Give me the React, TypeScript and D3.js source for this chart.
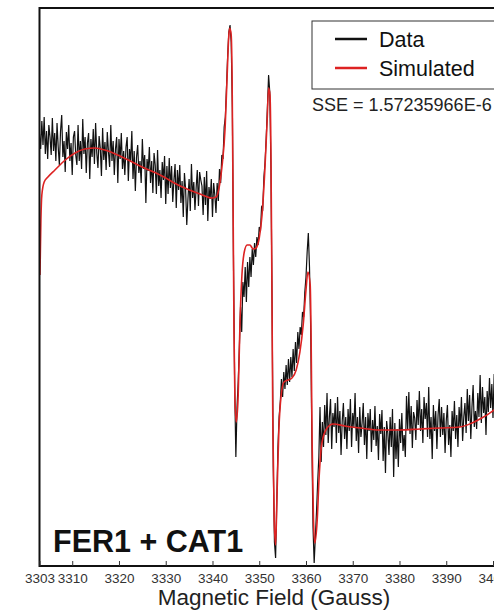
import React, { useEffect, useRef } from 'react'
import * as d3 from 'd3'

// field sweep of the recorded spectrum (Gauss)
const fieldStart = 3303
const fieldStep = 0.25

// recorded EPR signal, arbitrary units, one value per field step
const dataSignal = [
  // 3303 - 3340.75
  153, 138, 166, 142, 170, 133, 156, 128, 162, 150,
  132, 169, 136, 154, 126, 164, 140, 122, 156, 172,
  130, 146, 115, 155, 138, 162, 126, 144, 112, 150,
  156, 132, 122, 162, 126, 146, 118, 168, 133, 150,
  114, 144, 154, 108, 148, 130, 158, 123, 164, 134,
  119, 151, 139, 111, 159, 127, 145, 117, 155, 135,
  120, 162, 126, 146, 112, 138, 150, 104, 148, 128,
  154, 118, 136, 112, 140, 150, 106, 138, 126, 156,
  108, 136, 96, 130, 142, 114, 126, 104, 148, 118,
  132, 84, 128, 116, 140, 104, 126, 94, 134, 122,
  93, 137, 101, 117, 89, 125, 107, 131, 83, 121,
  93, 129, 99, 121, 85, 107, 123, 79, 117, 97,
  122, 84, 106, 70, 114, 98, 62, 88, 108, 76,
  123, 89, 105, 77, 99, 117, 81, 115, 107, 101,
  72, 110, 82, 116, 66, 100, 88, 108, 70, 104,
  92, 74,
  // 3341 - 3345.5
  104, 86, 118, 104, 132, 128, 160, 170, 200, 232,
  255, 262, 245, 180, 20, -100, -170, -120, -95,
  // 3345.75 - 3352.5
  -60, -20, -45, 5, -10, 20, -15, 25, 0, 30,
  10, 38, 22, 44, 30, 50, 42, 60, 55, 80,
  78, 110, 125, 150, 180, 212, 195, 120,
  // 3352.75 - 3354
  -20, -180, -255, -271, -215, -160,
  // 3354.25 - 3360.75
  -130, -115, -92, -110, -85, -102, -78, -98, -72, -95,
  -70, -90, -62, -84, -55, -76, -45, -62, -40, -48,
  -25, -30, -5, 10, 35, 54, 20,
  // 3361 - 3363.75
  -40, -150, -240, -276, -250, -225, -195, -170, -120, -175,
  -135, -160,
  // 3364 - 3402
  -118, -148, -106, -156, -130, -112, -162, -126, -140, -116,
  -156, -110, -146, -124, -168, -134, -116, -152, -130, -162,
  -122, -144, -112, -160, -126, -140, -106, -154, -130, -166,
  -120, -150, -136, -116, -158, -130, -172, -126, -144, -122,
  -165, -133, -153, -119, -159, -139, -173, -127, -147, -123,
  -174, -140, -186, -134, -146, -168, -130, -160, -122, -190,
  -136, -172, -142, -180, -132, -156, -126, -164, -148, -170,
  -109, -143, -105, -147, -119, -161, -125, -131, -153, -113,
  -138, -104, -144, -122, -156, -110, -132, -116, -150, -100,
  -152, -130, -172, -118, -144, -124, -162, -128, -112, -150,
  -120, -148, -126, -166, -134, -118, -158, -138, -170, -124,
  -144, -114, -152, -128, -160, -120, -140, -110, -154, -130,
  -116, -146, -102, -134, -108, -152, -120, -98, -140, -124,
  -142, -106, -130, -88, -136, -100, -126, -110, -148, -104,
  -125, -91, -121, -97, -131, -87, -119, -103, -135, -93,
  -109, -127, -99,
]

// simulated spectrum
const simField = [
  3303.1, 3303.3, 3303.5, 3304.0, 3304.8, 3306.3, 3308.5, 3310.6, 3312.7, 3314.9,
  3317.0, 3320.2, 3324.5, 3328.8, 3333.1, 3337.3, 3339.9, 3340.8, 3341.4, 3342.0,
  3342.7, 3343.1, 3343.5, 3343.7, 3344.0, 3344.2, 3344.4, 3344.6, 3344.8, 3345.1,
  3345.5, 3345.9, 3346.3, 3346.8, 3347.4, 3348.0, 3348.7, 3349.3, 3350.0, 3350.6,
  3351.2, 3351.7, 3352.0, 3352.3, 3352.5, 3352.7, 3352.9, 3353.2, 3353.5, 3353.8,
  3354.2, 3354.7, 3355.3, 3356.2, 3357.0, 3357.9, 3358.7, 3359.4, 3360.0, 3360.4,
  3360.9, 3361.1, 3361.3, 3361.6, 3361.9, 3362.4, 3362.8, 3363.4, 3364.5, 3365.8,
  3368.3, 3371.6, 3375.8, 3380.1, 3384.4, 3388.7, 3392.9, 3395.5, 3397.6, 3400.2,
  3402.5,
]
const simSignal = [
  12, 67, 92, 105, 110, 117, 127, 134, 138, 139,
  137, 131, 121, 112, 101, 93, 89, 90, 99, 119,
  159, 207, 252, 259, 252, 207, 87, -43, -113, -135,
  -108, -33, 12, 35, 42, 42, 38, 39, 49, 72,
  117, 167, 199, 192, 137, 7, -133, -233, -258, -208,
  -143, -108, -95, -93, -91, -83, -65, -38, -3, 15,
  2, -53, -153, -233, -256, -233, -191, -156, -141, -137,
  -139, -141, -143, -143, -142, -141, -140, -136, -131, -123,
  -113,
]

const tickFields = [3303, 3310, 3320, 3330, 3340, 3350, 3360, 3370, 3380, 3390, 3400]
const legendLabels = ['Data', 'Simulated']
const legendColors = ['#111111', '#dd2222']
const sseLabel = 'SSE = 1.57235966E-6'
const sampleLabel = 'FER1 + CAT1'
const axisTitle = 'Magnetic Field (Gauss)'

const font = "'Liberation Sans', Arial, Helvetica, sans-serif"

export default function App() {
  const ref = useRef<SVGSVGElement | null>(null)

  useEffect(() => {
    const svg = d3.select(ref.current)
    svg.selectAll('*').remove()

    const left = 39.5
    const top = 8
    const bottom = 566
    const x = d3.scaleLinear().domain([3303, 3412]).range([left, left + 109 * (453.5 / 97)])
    const y = d3.scaleLinear().domain([-279, 279]).range([bottom, top])
    const right = x(3412)

    svg
      .append('defs')
      .append('clipPath')
      .attr('id', 'plot-clip')
      .append('rect')
      .attr('x', left)
      .attr('y', top)
      .attr('width', right - left)
      .attr('height', bottom - top)

    const plot = svg.append('g').attr('clip-path', 'url(#plot-clip)')

    const dataLine = d3
      .line<number>()
      .x((d, i) => x(fieldStart + i * fieldStep))
      .y(d => y(d))

    plot
      .append('path')
      .attr('d', dataLine(dataSignal))
      .attr('fill', 'none')
      .attr('stroke', legendColors[0])
      .attr('stroke-width', 1.2)

    const simLine = d3
      .line<number>()
      .x((d, i) => x(simField[i]))
      .y(d => y(d))
      .curve(d3.curveMonotoneX)

    plot
      .append('path')
      .attr('d', simLine(simSignal))
      .attr('fill', 'none')
      .attr('stroke', legendColors[1])
      .attr('stroke-width', 1.6)
      .attr('stroke-linejoin', 'round')

    // frame
    svg
      .append('rect')
      .attr('x', left)
      .attr('y', top)
      .attr('width', right - left)
      .attr('height', bottom - top)
      .attr('fill', 'none')
      .attr('stroke', '#111')
      .attr('stroke-width', 2)

    const axis = svg
      .append('g')
      .attr('transform', `translate(0, ${bottom})`)
      .call(
        d3
          .axisBottom(x)
          .tickValues(tickFields)
          .tickSize(-5)
          .tickPadding(7)
          .tickFormat(d3.format('d'))
      )
    axis.select('.domain').remove()
    axis.selectAll('.tick line').attr('stroke', '#333')
    axis
      .selectAll('.tick text')
      .attr('fill', '#333')
      .attr('font-family', font)
      .attr('font-size', 13.5)

    svg
      .append('text')
      .attr('x', 274)
      .attr('y', 605)
      .attr('text-anchor', 'middle')
      .attr('font-family', font)
      .attr('font-size', 22.5)
      .attr('fill', '#222')
      .text(axisTitle)

    svg
      .append('text')
      .attr('x', 53)
      .attr('y', 552)
      .attr('font-family', font)
      .attr('font-weight', 'bold')
      .attr('font-size', 30.5)
      .attr('fill', '#111')
      .text(sampleLabel)

    // legend
    const legend = svg.append('g')
    legend
      .append('rect')
      .attr('x', 312)
      .attr('y', 21)
      .attr('width', 220)
      .attr('height', 68)
      .attr('fill', '#fff')
      .attr('stroke', '#333')
      .attr('stroke-width', 1)
    legendLabels.forEach((label, i) => {
      const ly = 39 + i * 29
      legend
        .append('line')
        .attr('x1', 335)
        .attr('x2', 367)
        .attr('y1', ly)
        .attr('y2', ly)
        .attr('stroke', legendColors[i])
        .attr('stroke-width', 2.5)
      legend
        .append('text')
        .attr('x', 379)
        .attr('y', ly + 8)
        .attr('font-family', font)
        .attr('font-size', 21.5)
        .attr('fill', '#111')
        .text(label)
    })

    svg
      .append('text')
      .attr('x', 312)
      .attr('y', 111)
      .attr('font-family', font)
      .attr('font-size', 18)
      .attr('fill', '#222')
      .text(sseLabel)
  }, [])

  return (
    <svg
      ref={ref}
      width={494}
      height={613}
      style={{ position: 'absolute', left: 0, top: 0, background: '#fff' }}
    />
  )
}
